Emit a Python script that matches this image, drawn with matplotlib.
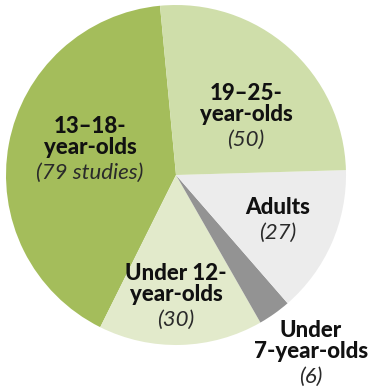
import matplotlib
matplotlib.use("Agg")
import matplotlib.pyplot as plt

# slices in drawing order (counterclockwise from the top)
groups = ["13\u201318-\nyear-olds", "Under 12-\nyear-olds", "Under\n7-year-olds", "Adults", "19\u201325-\nyear-olds"]
counts = [79, 30, 6, 27, 50]
count_labels = ["(79 studies)", "(30)", "(6)", "(27)", "(50)"]
colors = ["#a4bd5b", "#e2eacb", "#939393", "#ececec", "#cfdeaa"]

# label anchor points in pixel coords (x, y from top)
label_pos = [(90, 137), (176, 284), (311, 341), (278, 208), (246, 104)]

W, H = 374, 390
fig = plt.figure(figsize=(W / 100, H / 100), dpi=100)
ax = fig.add_axes([0, 0, 1, 1])

ax.pie(counts, colors=colors, startangle=95.4, counterclock=True,
       center=(176, H - 175), radius=170, frame=True,
       wedgeprops=dict(linewidth=0))
ax.set_xlim(0, W)
ax.set_ylim(0, H)
ax.set_aspect("equal")
ax.axis("off")

for name, num, (x, y) in zip(groups, count_labels, label_pos):
    ax.text(x, H - y, name, ha="center", va="center", fontsize=16,
            fontfamily="Lato", fontweight="black", color="#111111",
            linespacing=1.0)
    nlines = name.count("\n") + 1
    ax.text(x, H - y - nlines * 11.5 - 13, num, ha="center", va="center",
            fontsize=16, fontfamily="Lato", fontstyle="italic",
            fontweight="normal", color="#2a2a2a")

fig.savefig("out.png", dpi=100)
